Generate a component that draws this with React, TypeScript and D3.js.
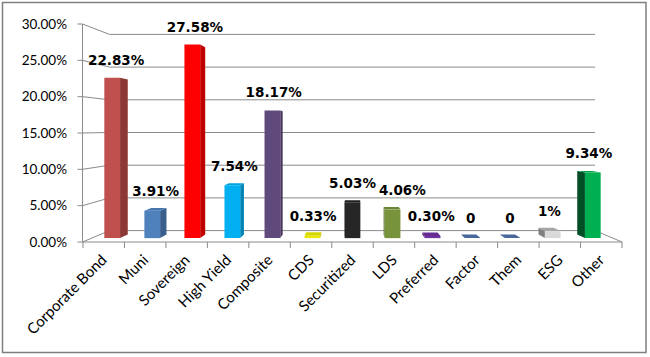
import React from "react";
import * as d3 from "d3";

const categories = ["Corporate Bond", "Muni", "Sovereign", "High Yield", "Composite", "CDS", "Securitized", "LDS", "Preferred", "Factor", "Them", "ESG", "Other"];
const values = [22.83, 3.91, 27.58, 7.54, 18.17, 0.33, 5.03, 4.06, 0.3, 0, 0, 1, 9.34];
const dataLabels = ["22.83%", "3.91%", "27.58%", "7.54%", "18.17%", "0.33%", "5.03%", "4.06%", "0.30%", "0", "0", "1%", "9.34%"];
const frontColors = ["#C0504D", "#4F81BD", "#FF0000", "#00B0F0", "#604A7B", "#E8E800", "#262626", "#77933C", "#7030A0", "#4F6F9F", "#4F6F9F", "#D9D9D9", "#00B050"];
const sideColors = ["#8C3836", "#3A5F8C", "#C00000", "#0085B5", "#46365A", "#B0B000", "#111111", "#576C2B", "#521F78", "#3C5579", "#3C5579", "#7F7F7F", "#004D26"];
const topColors = ["#B04846", "#4876AE", "#E80000", "#00A2DD", "#574370", "#D6D600", "#1E1E1E", "#6C8636", "#662B93", "#48679A", "#48679A", "#A6A6A6", "#00A14A"];
const yTicks = [0, 5, 10, 15, 20, 25, 30];

const W = 650;
const H = 357;
const CX = 352.5;
const CY = 128;
const D0 = 0.34;
const D1 = 0.66;
const LABEL_SIZE = 13.5;

const charW = (ch: string) => (ch === "." ? 0.38 : ch === "%" ? 1.002 : 0.696);
const textW = (s: string) => s.split("").reduce((a, ch) => a + charW(ch), 0) * LABEL_SIZE;

export default function App() {
  const x = d3.scaleBand<string>().domain(categories).range([83, 622]).paddingInner(0).paddingOuter(0);
  const y = d3.scaleLinear().domain([0, 30]).range([242, 24]);
  const sc = (d: number) => 1 - 0.1 * d;
  const P = (xf: number, yf: number, d: number): [number, number] => [CX + (xf - CX) * sc(d), CY + (yf - CY) * sc(d)];
  const pts = (arr: [number, number][]) => arr.map((p) => p.join(",")).join(" ");
  const bw = x.bandwidth() * 0.393;
  const grid = "#8A8A8A";
  const x0 = 82.5;
  const x1 = 622;

  // label positions with simple collision avoidance (shift right when overlapping the previous label at similar height)
  const labelPos: { x: number; y: number; w: number }[] = [];
  categories.forEach((c, i) => {
    const cxm = (x(c) as number) + x.bandwidth() / 2;
    const lp = P(cxm, y(values[i]), 0.5);
    const w = textW(dataLabels[i]);
    let lx = lp[0];
    const ly = lp[1] - 13.5;
    const prev = labelPos[i - 1];
    if (prev && Math.abs(prev.y - ly) < 14 && lx - w / 2 < prev.x + prev.w / 2 + 3) {
      lx = prev.x + prev.w / 2 + 3 + w / 2;
    }
    labelPos.push({ x: lx, y: ly, w });
  });

  return (
    <svg width={W} height={H} style={{ position: "fixed", left: 0, top: 0, background: "#fff" }}>
      <rect x={2.5} y={2.5} width={643.5} height={350} fill="#fff" stroke="#7F7F7F" strokeWidth={1.5} />
      {yTicks.map((t) => {
        const a = P(x0, y(t), 0);
        const b = P(x0, y(t), 1);
        const c = P(x1, y(t), 1);
        return <polyline key={"g" + t} points={pts([a, b, c])} fill="none" stroke={grid} strokeWidth={1} />;
      })}
      <polyline points={pts([P(x0, y(0), 0), P(x1, y(0), 0), P(x1, y(0), 1)])} fill="none" stroke={grid} strokeWidth={1} />
      <line x1={x0} x2={x0} y1={y(30)} y2={y(0)} stroke={grid} strokeWidth={1} />
      {yTicks.map((t) => (
        <g key={"yt" + t}>
          <line x1={x0 - 5} x2={x0} y1={y(t)} y2={y(t)} stroke={grid} strokeWidth={1} />
          <text x={67} y={y(t)} dy="0.35em" textAnchor="end" fontFamily="Lato, 'Open Sans', sans-serif" fontSize={13.5} fill="#000">
            {t.toFixed(2) + "%"}
          </text>
        </g>
      ))}
      {categories.concat([""]).map((c, i) => {
        const xx = 83 + i * x.bandwidth();
        return <line key={"ct" + i} x1={xx} x2={xx} y1={y(0)} y2={y(0) + 6} stroke={grid} strokeWidth={1} />;
      })}
      {categories.map((c, i) => {
        const cxm = (x(c) as number) + x.bandwidth() / 2;
        const l = cxm - bw / 2;
        const r = cxm + bw / 2;
        const yt = y(values[i]);
        const yb = y(0);
        const front: [number, number][] = [P(l, yt, D0), P(r, yt, D0), P(r, yb, D0), P(l, yb, D0)];
        const sx = cxm < CX ? r : l;
        const side: [number, number][] = [P(sx, yt, D0), P(sx, yt, D1), P(sx, yb, D1), P(sx, yb, D0)];
        const top: [number, number][] = [P(l, yt, D0), P(r, yt, D0), P(r, yt, D1), P(l, yt, D1)];
        const showTop = yt > CY;
        return (
          <g key={c}>
            {values[i] > 0 && <polygon points={pts(side)} fill={sideColors[i]} />}
            {showTop && <polygon points={pts(top)} fill={topColors[i]} />}
            {values[i] > 0 && <polygon points={pts(front)} fill={frontColors[i]} />}
          </g>
        );
      })}
      {categories.map((c, i) => (
        <text key={"dl" + c} x={labelPos[i].x} y={labelPos[i].y} textAnchor="middle" fontFamily="'DejaVu Sans', Verdana, sans-serif" fontWeight="bold" fontSize={LABEL_SIZE} fill="#000">
          {dataLabels[i]}
        </text>
      ))}
      {categories.map((c) => {
        const cxm = (x(c) as number) + x.bandwidth() / 2;
        return (
          <text key={"cl" + c} transform={`translate(${cxm + 4},${261}) rotate(-45)`} textAnchor="end" fontFamily="Lato, 'Open Sans', sans-serif" fontSize={15} fill="#000">
            {c}
          </text>
        );
      })}
    </svg>
  );
}
